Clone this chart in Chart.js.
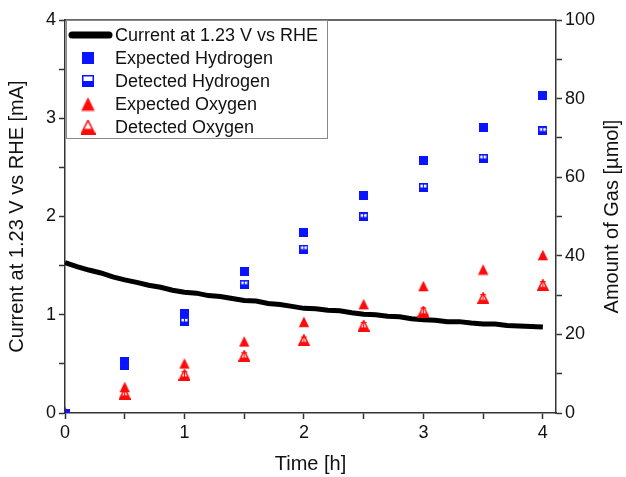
<!DOCTYPE html>
<html>
<head>
<meta charset="utf-8">
<script src="https://cdn.jsdelivr.net/npm/chart.js@4"></script>
<style>
  body { margin: 0; background: #fff; }
</style>
</head>
<body>
<canvas id="gasChart" width="626" height="477"></canvas>
<script>
// Corriente medida (mA) frente al tiempo (h)
const currentTime = [0, 0.1, 0.2, 0.3, 0.4, 0.5, 0.6, 0.7, 0.8, 0.9, 1.0, 1.1, 1.2, 1.3, 1.4, 1.5, 1.6, 1.7, 1.8, 1.9, 2.0,
    2.1, 2.2, 2.3, 2.4, 2.5, 2.6, 2.7, 2.8, 2.9, 3.0, 3.1, 3.2, 3.3, 3.4, 3.5, 3.6, 3.7, 3.8, 3.9, 4.0];
const currentValues = [1.53, 1.49, 1.455, 1.425, 1.385, 1.355, 1.33, 1.30, 1.28, 1.25, 1.23, 1.22, 1.195, 1.185, 1.165, 1.145, 1.14, 1.115, 1.105, 1.085, 1.065,
    1.06, 1.045, 1.04, 1.02, 1.005, 1.0, 0.985, 0.98, 0.96, 0.95, 0.945, 0.93, 0.93, 0.915, 0.905, 0.905, 0.89, 0.885, 0.88, 0.875];

// Cantidad de gas (µmol)
const timeGas = [0, 0.5, 1, 1.5, 2, 2.5, 3, 3.5, 4];
const expectedH2 = [0, 13.2, 25.2, 36.0, 46.0, 55.4, 64.3, 72.7, 80.8];
const detectedH2 = [0, 12.2, 23.3, 32.8, 41.7, 49.9, 57.4, 64.8, 71.8];
const detectedH2Err = [0, 0.8, 0.8, 0.8, 0.9, 0.9, 0.9, 0.9, 0.9];
const expectedO2 = [0, 6.6, 12.6, 18.2, 23.2, 27.7, 32.3, 36.5, 40.2];
const detectedO2 = [0, 4.9, 9.7, 14.5, 18.5, 22.2, 25.8, 29.2, 32.5];
const detectedO2Err = [0, 0.8, 0.8, 0.8, 0.8, 0.8, 0.9, 0.9, 0.9];

const xTicks = [0, 1, 2, 3, 4];
const leftTicks = [0, 1, 2, 3, 4];
const rightTicks = [0, 20, 40, 60, 80, 100];

const BLUE = '#0a14ff';
const RED = '#ff0a0a';
const AXIS = '#333';
const FONT = "'Liberation Sans', Arial, sans-serif";

// Marcadores dibujados a mano (cuadrado / triángulo, llenos o medio llenos)
function makeMarker(kind, size, color) {
    const c = document.createElement('canvas');
    c.width = size; c.height = size;
    const g = c.getContext('2d');
    const s = size;
    g.fillStyle = color;
    g.strokeStyle = color;
    g.lineWidth = 1.5;
    if (kind === 'square') {
        g.fillRect(0, 0, s, s);
    } else if (kind === 'halfSquare') {
        g.fillStyle = '#fff';
        g.fillRect(0, 0, s, s);
        g.fillStyle = color;
        g.fillRect(0, s * 0.5, s, s * 0.5);
        g.strokeRect(0.75, 0.75, s - 1.5, s - 1.5);
    } else {
        g.beginPath();
        g.moveTo(s / 2, 0.8);
        g.lineTo(s - 0.8, s - 0.8);
        g.lineTo(0.8, s - 0.8);
        g.closePath();
        if (kind === 'triangle') {
            g.fill();
        } else {
            g.fillStyle = '#fff';
            g.fill();
            g.save();
            g.clip();
            g.fillStyle = color;
            g.fillRect(0, s * 0.62, s, s);
            g.restore();
            g.stroke();
        }
    }
    return c;
}

const pts = (xs, ys) => xs.map((x, i) => ({ x: x, y: ys[i] }));

const legendItems = [
    { text: 'Current at 1.23 V vs RHE', kind: 'line' },
    { text: 'Expected Hydrogen', marker: makeMarker('square', 12, BLUE) },
    { text: 'Detected Hydrogen', marker: makeMarker('halfSquare', 12, BLUE) },
    { text: 'Expected Oxygen', marker: makeMarker('triangle', 15, RED) },
    { text: 'Detected Oxygen', marker: makeMarker('halfTriangle', 15, RED) }
];

// Barras de error, borde superior, título derecho y leyenda dentro del área
const extrasPlugin = {
    id: 'extras',
    afterDatasetsDraw(chart) {
        const ctx = chart.ctx;
        const y1 = chart.scales.y1;
        const xs = chart.scales.x;
        chart.data.datasets.forEach((ds) => {
            if (!ds.errors) return;
            ctx.save();
            ctx.strokeStyle = ds.errorColor;
            ctx.lineWidth = 1;
            ds.data.forEach((p, i) => {
                const e = ds.errors[i];
                if (!e) return;
                const px = xs.getPixelForValue(p.x);
                const top = y1.getPixelForValue(p.y + e);
                const bot = y1.getPixelForValue(p.y - e);
                ctx.beginPath();
                ctx.moveTo(px, top); ctx.lineTo(px, bot);
                ctx.moveTo(px - 3, top); ctx.lineTo(px + 3, top);
                ctx.moveTo(px - 3, bot); ctx.lineTo(px + 3, bot);
                ctx.stroke();
            });
            ctx.restore();
        });
    },
    afterDraw(chart) {
        const ctx = chart.ctx;
        const a = chart.chartArea;
        ctx.save();
        // borde superior
        ctx.strokeStyle = AXIS;
        ctx.lineWidth = 1.5;
        ctx.beginPath();
        ctx.moveTo(a.left, a.top);
        ctx.lineTo(a.right, a.top);
        ctx.stroke();

        // título del eje derecho, leído de abajo hacia arriba
        ctx.save();
        ctx.translate(612, (a.top + a.bottom) / 2);
        ctx.rotate(-Math.PI / 2);
        ctx.font = '20px ' + FONT;
        ctx.fillStyle = '#111';
        ctx.textAlign = 'center';
        ctx.textBaseline = 'middle';
        ctx.fillText('Amount of Gas [µmol]', 0, 0);
        ctx.restore();

        // leyenda
        const bx = a.left + 1, by = a.top, bw = 261, bh = 118;
        ctx.fillStyle = '#fff';
        ctx.fillRect(bx, by, bw, bh);
        ctx.strokeStyle = '#8a8a8a';
        ctx.lineWidth = 1;
        ctx.strokeRect(bx + 0.5, by + 0.5, bw, bh);
        ctx.font = '18px ' + FONT;
        ctx.textBaseline = 'middle';
        legendItems.forEach((item, i) => {
            const cy = by + 15 + i * 23;
            if (item.kind === 'line') {
                ctx.strokeStyle = '#000';
                ctx.lineWidth = 7;
                ctx.lineCap = 'round';
                ctx.beginPath();
                ctx.moveTo(bx + 6, cy);
                ctx.lineTo(bx + 43, cy);
                ctx.stroke();
            } else {
                const m = item.marker;
                ctx.drawImage(m, bx + 22 - m.width / 2, cy - m.height / 2);
            }
            ctx.fillStyle = '#111';
            ctx.fillText(item.text, bx + 49, cy + 1);
        });
        ctx.restore();
    }
};

const ctx = document.getElementById('gasChart').getContext('2d');
const gasChart = new Chart(ctx, {
    type: 'scatter',
    data: {
        datasets: [
            {
                label: 'Expected Hydrogen',
                data: pts(timeGas, expectedH2),
                yAxisID: 'y1',
                pointStyle: makeMarker('square', 9, BLUE),
                pointRadius: 5
            },
            {
                label: 'Detected Hydrogen',
                data: pts(timeGas, detectedH2),
                yAxisID: 'y1',
                pointStyle: makeMarker('halfSquare', 9, BLUE),
                pointRadius: 5,
                errors: detectedH2Err,
                errorColor: BLUE
            },
            {
                label: 'Expected Oxygen',
                data: pts(timeGas, expectedO2),
                yAxisID: 'y1',
                pointStyle: makeMarker('triangle', 12, RED),
                pointRadius: 6
            },
            {
                label: 'Detected Oxygen',
                data: pts(timeGas, detectedO2),
                yAxisID: 'y1',
                pointStyle: makeMarker('halfTriangle', 12, RED),
                pointRadius: 6,
                errors: detectedO2Err,
                errorColor: RED
            },
            {
                label: 'Current at 1.23 V vs RHE',
                data: pts(currentTime, currentValues),
                yAxisID: 'y',
                showLine: true,
                borderColor: '#000',
                borderWidth: 5,
                pointRadius: 0,
                tension: 0
            }
        ]
    },
    options: {
        responsive: false,
        animation: false,
        layout: { padding: { top: 20, left: 0, right: 0, bottom: 0 } },
        plugins: {
            legend: { display: false },
            tooltip: { enabled: false }
        },
        scales: {
            x: {
                type: 'linear',
                min: 0,
                max: 4.11,
                afterFit: (s) => { s.height = 64; },
                border: { color: AXIS, width: 1.5 },
                grid: { drawOnChartArea: false, tickLength: 6, tickColor: AXIS, tickWidth: 1.5 },
                ticks: {
                    stepSize: 0.5,
                    includeBounds: false,
                    color: '#111',
                    font: { family: FONT, size: 18 },
                    maxRotation: 0,
                    autoSkip: false,
                    callback: (v) => xTicks.includes(v) ? v : ''
                },
                title: {
                    display: true,
                    text: 'Time [h]',
                    color: '#111',
                    font: { family: FONT, size: 20 },
                    padding: { top: 4, bottom: 1 }
                }
            },
            y: {
                type: 'linear',
                position: 'left',
                min: 0,
                max: 4,
                afterFit: (s) => { s.width = 65; },
                border: { color: AXIS, width: 1.5 },
                grid: { drawOnChartArea: false, tickLength: 6, tickColor: AXIS, tickWidth: 1.5 },
                ticks: {
                    stepSize: 0.5,
                    color: '#111',
                    font: { family: FONT, size: 18 },
                    autoSkip: false,
                    callback: (v) => leftTicks.includes(v) ? v : ''
                },
                title: {
                    display: true,
                    text: 'Current at 1.23 V vs RHE [mA]',
                    color: '#111',
                    font: { family: FONT, size: 20 },
                    padding: { top: 5, bottom: 4 }
                }
            },
            y1: {
                type: 'linear',
                position: 'right',
                min: 0,
                max: 100,
                afterFit: (s) => { s.width = 70; },
                border: { color: AXIS, width: 1.5 },
                grid: { drawOnChartArea: false, tickLength: 6, tickColor: AXIS, tickWidth: 1.5 },
                ticks: {
                    stepSize: 10,
                    color: '#111',
                    font: { family: FONT, size: 18 },
                    autoSkip: false,
                    callback: (v) => rightTicks.includes(v) ? v : ''
                }
            }
        }
    },
    plugins: [extrasPlugin]
});
</script>
</body>
</html>
